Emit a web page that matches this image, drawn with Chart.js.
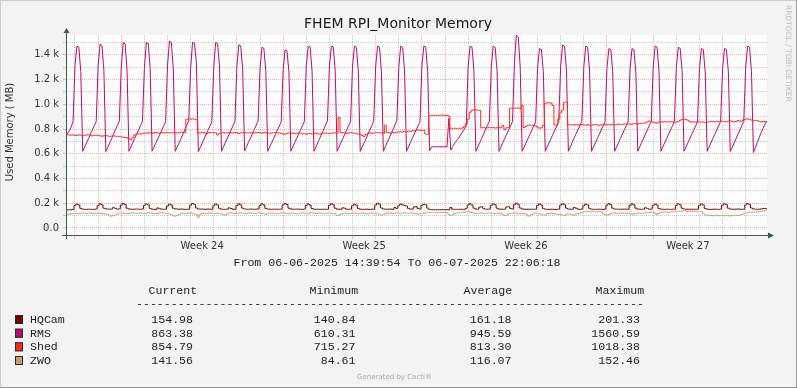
<!DOCTYPE html>
<html>
<head>
<meta charset="utf-8">
<title>FHEM RPI_Monitor Memory</title>
<script src="https://cdn.jsdelivr.net/npm/chart.js@4.4.1/dist/chart.umd.min.js"></script>
<style>
  html, body { margin: 0; padding: 0; background: #f3f3f3; }
  canvas { display: block; }
</style>
</head>
<body>
<canvas id="memChart" width="797" height="388"></canvas>
<script>
// samples every 2 h, hour 0 = 06-06-2025 00:00
const firstHour = 14;
const stepHours = 2;
const rangeStart = 14 + 39 / 60 + 54 / 3600;        // 06-06-2025 14:39:54
const rangeEnd = 30 * 24 + 22 + 6 / 60 + 18 / 3600;  // 06-07-2025 22:06:18

const weekLabels = ['Week 24', 'Week 25', 'Week 26', 'Week 27'];
const weekStarts = [72, 240, 408, 576]; // mondays 00:00

const seriesNames = ['HQCam', 'RMS', 'Shed', 'ZWO'];
const seriesColors = ['#7b0000', '#b80f68', '#ff2a1f', '#c8a070'];

const statCurrent = ['154.98', '863.38', '854.79', '141.56'];
const statMinimum = ['140.84', '610.31', '715.27', '84.61'];
const statAverage = ['161.18', '945.59', '813.30', '116.07'];
const statMaximum = ['201.33', '1560.59', '1018.38', '152.46'];

// one row per day (00h..22h), first row starts 14h
const hqcam = [
  142, 146, 147, 146, 150,
  182, 194, 186, 158, 152, 151, 150, 152, 151, 150, 151, 153,
  180, 196, 188, 160, 154, 153, 152, 153, 165, 158, 152, 154,
  185, 197, 190, 160, 153, 152, 151, 152, 153, 152, 151, 153,
  182, 195, 188, 158, 152, 151, 150, 162, 156, 152, 151, 152,
  178, 192, 185, 160, 154, 153, 152, 153, 152, 151, 150, 152,
  184, 198, 190, 162, 154, 152, 153, 152, 151, 153, 152, 151,
  180, 194, 186, 158, 152, 151, 150, 152, 163, 157, 152, 151,
  182, 196, 187, 160, 153, 152, 151, 153, 152, 151, 152, 153,
  180, 195, 186, 158, 153, 152, 151, 152, 151, 152, 151, 152,
  185, 197, 190, 160, 154, 152, 151, 152, 153, 151, 150, 152,
  182, 194, 185, 158, 152, 151, 152, 151, 150, 152, 151, 150,
  183, 195, 187, 160, 153, 152, 151, 163, 160, 152, 151, 152,
  180, 192, 184, 158, 152, 151, 150, 152, 151, 150, 152, 151,
  185, 201, 192, 162, 154, 152, 151, 153, 152, 151, 165, 158,
  180, 194, 186, 182, 178, 158, 153, 152, 170, 172, 158, 153,
  182, 192, 188, 160, 150, 148, 147, 148, 147, 148, 147, 148,
  147, 148, 147, 166, 152, 150, 151, 150, 152, 151, 150, 158,
  185, 196, 186, 160, 153, 152, 168, 172, 158, 152, 151, 153,
  182, 195, 188, 160, 153, 152, 151, 152, 170, 172, 158, 153,
  188, 200, 190, 162, 154, 152, 151, 152, 151, 152, 151, 152,
  182, 194, 186, 158, 152, 151, 150, 152, 151, 150, 151, 152,
  185, 196, 188, 160, 153, 152, 151, 166, 160, 152, 151, 153,
  180, 193, 186, 158, 152, 151, 150, 151, 152, 151, 150, 152,
  184, 196, 189, 160, 153, 152, 151, 152, 151, 153, 152, 151,
  182, 195, 187, 160, 153, 152, 151, 152, 164, 158, 152, 151,
  180, 193, 186, 158, 152, 151, 150, 152, 151, 150, 152, 151,
  183, 195, 188, 160, 153, 152, 151, 152, 151, 152, 151, 152,
  182, 194, 186, 158, 152, 151, 150, 151, 152, 151, 150, 152,
  184, 196, 188, 160, 153, 152, 151, 152, 153, 152, 151, 152,
  186, 197, 190, 162, 154, 152, 151, 152, 153, 156, 158, 155,
];

const rms = [
  745, 760, 785, 815, 860,
  1320, 1470, 1462, 1265, 620, 655, 688, 722, 758, 792, 826, 860,
  1310, 1485, 1475, 1270, 618, 652, 686, 722, 758, 794, 830, 865,
  1300, 1500, 1490, 1280, 620, 655, 690, 724, 758, 792, 828, 862,
  1290, 1500, 1492, 1290, 621, 655, 690, 722, 756, 790, 825, 858,
  1310, 1510, 1500, 1285, 620, 654, 688, 722, 758, 794, 830, 866,
  1290, 1500, 1495, 1330, 618, 652, 686, 720, 754, 790, 824, 858,
  1300, 1500, 1492, 1300, 620, 655, 690, 724, 758, 792, 828, 862,
  1310, 1480, 1472, 1280, 622, 657, 692, 726, 760, 795, 830, 864,
  1290, 1460, 1452, 1270, 620, 654, 688, 722, 756, 790, 824, 858,
  1280, 1440, 1432, 1260, 621, 655, 690, 724, 758, 792, 826, 860,
  1310, 1470, 1462, 1270, 620, 655, 690, 725, 760, 795, 830, 866,
  1300, 1470, 1465, 1275, 620, 655, 690, 724, 758, 794, 828, 862,
  1310, 1470, 1460, 1270, 619, 654, 688, 722, 758, 792, 828, 862,
  1305, 1470, 1462, 1265, 620, 656, 692, 726, 762, 796, 832, 866,
  1300, 1470, 1460, 1270, 620, 655, 690, 724, 758, 792, 826, 860,
  1310, 1470, 1462, 1265, 625, 655, 657, 656, 656, 657, 656, 656,
  657, 656, 887, 630, 660, 685, 705, 725, 750, 775, 800, 825,
  1310, 1470, 1462, 1265, 620, 655, 690, 724, 760, 795, 830, 862,
  1300, 1470, 1460, 1270, 620, 655, 690, 724, 758, 792, 826, 860,
  1330, 1560, 1545, 1300, 620, 654, 688, 722, 756, 790, 824, 858,
  1290, 1450, 1442, 1265, 620, 655, 690, 724, 758, 792, 826, 860,
  1310, 1480, 1470, 1275, 620, 656, 692, 728, 762, 796, 830, 864,
  1300, 1470, 1462, 1270, 620, 654, 688, 722, 756, 790, 824, 858,
  1290, 1450, 1442, 1265, 620, 655, 690, 724, 758, 792, 826, 860,
  1290, 1450, 1440, 1260, 620, 655, 690, 725, 760, 795, 830, 862,
  1300, 1470, 1462, 1270, 620, 655, 690, 724, 758, 792, 826, 860,
  1295, 1460, 1452, 1270, 620, 654, 688, 722, 756, 790, 824, 858,
  1290, 1450, 1442, 1260, 620, 655, 690, 724, 758, 792, 826, 860,
  1290, 1450, 1442, 1265, 618, 652, 686, 722, 758, 792, 828, 862,
  1300, 1470, 1462, 1265, 610, 648, 690, 732, 770, 805, 840, 863,
];

const shed = [
  760, 755, 752, 750, 752,
  750, 748, 752, 750, 746, 748, 752, 755, 750, 745, 748, 752,
  748, 745, 742, 745, 748, 744, 740, 742, 745, 742, 740, 738,
  736, 735, 732, 728, 722, 715, 730, 752, 760, 762, 758, 765,
  768, 765, 770, 768, 765, 770, 772, 768, 765, 770, 768, 770,
  772, 770, 768, 772, 770, 768, 770, 775, 772, 770, 878, 880,
  880, 882, 880, 876, 770, 768, 772, 770, 760, 768, 772, 770,
  770, 768, 752, 765, 770, 772, 768, 770, 772, 770, 768, 770,
  772, 762, 768, 770, 772, 770, 768, 772, 770, 768, 770, 772,
  770, 765, 772, 770, 768, 765, 768, 770, 772, 770, 768, 765,
  760, 758, 765, 768, 770, 765, 762, 765, 768, 765, 760, 762,
  758, 762, 765, 760, 765, 768, 762, 758, 762, 765, 768, 765,
  762, 765, 770, 768, 770, 895, 772, 770, 768, 765, 768, 770,
  768, 765, 762, 760, 755, 748, 740, 755, 765, 768, 765, 768,
  770, 772, 768, 770, 765, 830, 772, 770, 768, 770, 772, 775,
  775, 778, 775, 780, 778, 782, 780, 785, 788, 790, 792, 790,
  790, 788, 760, 758, 905, 910, 912, 910, 908, 910, 912, 910,
  910, 908, 905, 806, 805, 806, 804, 806, 805, 808, 820, 840,
  880, 935, 952, 955, 954, 952, 950, 810, 812, 808, 810, 812,
  810, 812, 808, 810, 812, 810, 828, 795, 810, 812, 968, 968,
  968, 968, 970, 968, 990, 812, 822, 830, 832, 830, 832, 825,
  815, 806, 810, 830, 1008, 1010, 1012, 1010, 990, 835, 830, 880,
  930, 954, 1016, 1018, 835, 834, 836, 832, 835, 834, 830, 836,
  834, 830, 836, 832, 830, 834, 836, 832, 830, 834, 832, 836,
  834, 836, 832, 838, 835, 834, 840, 838, 836, 840, 838, 842,
  840, 838, 842, 845, 840, 845, 848, 846, 850, 858, 865, 860,
  855, 852, 848, 855, 858, 856, 860, 858, 856, 860, 858, 855,
  856, 860, 870, 878, 880, 876, 872, 860, 856, 858, 855, 858,
  856, 858, 855, 852, 856, 858, 862, 860, 858, 862, 860, 864,
  862, 860, 858, 862, 866, 862, 858, 862, 868, 862, 866, 875,
  880, 882, 878, 872, 866, 870, 868, 862, 858, 862, 860, 855,
];

const zwo = [
  104, 108, 112, 115, 116,
  118, 120, 116, 118, 120, 119, 117, 120, 122, 118, 116, 118,
  120, 118, 116, 114, 112, 110, 98, 97, 100, 104, 112, 116,
  118, 120, 117, 115, 118, 120, 122, 119, 117, 120, 121, 118,
  116, 120, 124, 121, 118, 115, 117, 120, 122, 124, 120, 118,
  118, 114, 108, 98, 96, 100, 108, 115, 120, 118, 117, 120,
  122, 118, 114, 108, 86, 110, 118, 120, 118, 119, 121, 118,
  116, 118, 120, 117, 115, 106, 104, 114, 120, 122, 119, 117,
  118, 120, 122, 119, 116, 118, 121, 123, 120, 117, 119, 121,
  120, 118, 114, 110, 116, 120, 122, 119, 117, 115, 118, 120,
  122, 120, 118, 116, 119, 121, 118, 115, 117, 120, 122, 119,
  116, 118, 121, 123, 120, 117, 119, 121, 118, 116, 118, 120,
  121, 118, 116, 114, 100, 102, 112, 118, 120, 118, 116, 118,
  120, 122, 119, 117, 118, 121, 119, 116, 114, 118, 121, 120,
  118, 115, 110, 100, 108, 116, 120, 122, 119, 117, 120, 122,
  120, 118, 121, 123, 120, 117, 119, 121, 118, 116, 112, 114,
  118, 120, 122, 124, 125, 124, 125, 124, 123, 125, 124, 125,
  124, 123, 112, 100, 104, 118, 120, 122, 124, 126, 128, 130,
  132, 128, 124, 120, 118, 116, 119, 121, 118, 116, 119, 121,
  120, 118, 116, 118, 121, 119, 108, 100, 104, 114, 118, 120,
  122, 120, 118, 116, 118, 116, 112, 98, 97, 108, 116, 120,
  118, 116, 112, 106, 104, 114, 118, 120, 117, 115, 112, 110,
  108, 104, 100, 110, 114, 112, 106, 104, 112, 116, 118, 126,
  130, 132, 134, 131, 133, 135, 132, 130, 134, 131, 118, 108,
  104, 108, 116, 120, 122, 118, 116, 120, 122, 119, 117, 120,
  116, 110, 114, 118, 121, 119, 117, 120, 122, 124, 126, 128,
  126, 120, 110, 118, 126, 128, 130, 128, 127, 129, 131, 134,
  136, 134, 132, 136, 152, 138, 134, 135, 136, 134, 136, 135,
  133, 134, 118, 106, 104, 102, 100, 98, 101, 103, 100, 102,
  100, 98, 101, 99, 97, 100, 102, 99, 101, 104, 108, 116,
  120, 124, 128, 126, 128, 130, 128, 132, 134, 136, 138, 142,
];

const seriesValues = [hqcam, rms, shed, zwo];
seriesValues.forEach((s, i) => {
  if (s.length !== rms.length) console.error(seriesNames[i] + ' has ' + s.length + ' samples');
});

const sampleHours = rms.map((_, i) => firstHour + i * stepHours);
const toPoints = vals => vals.map((v, i) => ({ x: sampleHours[i], y: v }));

// x ticks: every midnight, plus the middle of each week for its label
const dayTicks = [];
for (let h = 24; h < rangeEnd; h += 24) dayTicks.push(h);
const weekMids = weekStarts.map(h => h + 84);
const xTicks = dayTicks.concat(weekMids).sort((a, b) => a - b);

const yTicks = [];
for (let v = 0; v <= 1500; v += 100) yTicks.push(v);

const minorGrid = 'rgba(160,160,160,0.55)';
const majorGrid = 'rgba(230,80,80,0.45)';
const axisColor = '#3c5b4c';
const labelFont = '"DejaVu Sans", Verdana, sans-serif';
const monoFont = '"Liberation Mono", "DejaVu Sans Mono", monospace';

const rrdFrame = {
  id: 'rrdFrame',
  beforeDraw(chart) {
    const { ctx, chartArea: a } = chart;
    ctx.save();
    ctx.fillStyle = '#f3f3f3';
    ctx.fillRect(0, 0, chart.width, chart.height);
    ctx.fillStyle = '#fdfdfd';
    ctx.fillRect(a.left, a.top, a.right - a.left, a.bottom - a.top);
    ctx.restore();
  },
  afterDraw(chart) {
    const { ctx, chartArea: a } = chart;
    ctx.save();

    // outer frame
    ctx.fillStyle = '#cbcbcb';
    ctx.fillRect(0, 0, chart.width, 1);
    ctx.fillRect(0, 0, 1, chart.height);
    ctx.fillStyle = '#9a9a9a';
    ctx.fillRect(0, chart.height - 1, chart.width, 1);
    ctx.fillRect(chart.width - 1, 0, 1, chart.height);

    // axes with arrows
    const ax = a.left + 0.5, ay = a.bottom - 0.5;
    ctx.strokeStyle = axisColor;
    ctx.fillStyle = axisColor;
    ctx.lineWidth = 1;
    ctx.beginPath();
    ctx.moveTo(ax, a.bottom + 3);
    ctx.lineTo(ax, a.top - 3);
    ctx.moveTo(a.left - 4, ay);
    ctx.lineTo(a.right + 2, ay);
    ctx.stroke();
    ctx.beginPath();
    ctx.moveTo(ax - 3, a.top - 2);
    ctx.lineTo(ax + 3, a.top - 2);
    ctx.lineTo(ax, a.top - 7);
    ctx.closePath();
    ctx.fill();
    ctx.beginPath();
    ctx.moveTo(a.right + 1, ay - 3);
    ctx.lineTo(a.right + 1, ay + 3);
    ctx.lineTo(a.right + 7, ay);
    ctx.closePath();
    ctx.fill();

    // title
    ctx.fillStyle = '#1a1a1a';
    ctx.font = '14px ' + labelFont;
    ctx.textAlign = 'center';
    ctx.textBaseline = 'alphabetic';
    ctx.fillText('FHEM RPI_Monitor Memory', 398, 28);

    // vertical axis title
    ctx.save();
    ctx.translate(10.5, 132);
    ctx.rotate(-Math.PI / 2);
    ctx.font = '10px ' + labelFont;
    ctx.fillStyle = '#333';
    ctx.textBaseline = 'middle';
    ctx.fillText('Used Memory ( MB)', 0, 0);
    ctx.restore();

    // watermark
    ctx.save();
    ctx.translate(788, 5);
    ctx.rotate(Math.PI / 2);
    ctx.font = '7.5px ' + labelFont;
    ctx.fillStyle = '#bdbdbd';
    ctx.textAlign = 'left';
    ctx.textBaseline = 'middle';
    ctx.fillText('RRDTOOL / TOBI OETIKER', 0, 0);
    ctx.restore();

    // time range
    ctx.font = '11.6px ' + monoFont;
    ctx.fillStyle = '#222';
    ctx.textAlign = 'left';
    ctx.fillText('From 06-06-2025 14:39:54 To 06-07-2025 22:06:18', 233.5, 266);

    // legend table
    ctx.fillText('Current', 148.5, 294);
    ctx.fillText('Minimum', 309.5, 294);
    ctx.fillText('Average', 463.5, 294);
    ctx.fillText('Maximum', 595.5, 294);
    ctx.fillText('-'.repeat(73), 136, 307);
    const rowBase = [323, 336.7, 350.3, 364];
    seriesNames.forEach((name, i) => {
      const y = rowBase[i];
      ctx.fillStyle = seriesColors[i];
      ctx.fillRect(15, y - 8, 8, 9);
      ctx.strokeStyle = '#2a2a2a';
      ctx.strokeRect(15.5, y - 7.5, 7, 8);
      ctx.fillStyle = '#222';
      ctx.textAlign = 'left';
      ctx.fillText(name, 30, y);
      ctx.textAlign = 'right';
      ctx.fillText(statCurrent[i], 193, y);
      ctx.fillText(statMinimum[i], 355.5, y);
      ctx.fillText(statAverage[i], 511.5, y);
      ctx.fillText(statMaximum[i], 640, y);
    });

    ctx.font = '7px ' + labelFont;
    ctx.fillStyle = '#aaaaaa';
    ctx.textAlign = 'center';
    ctx.fillText('Generated by Cacti\u00ae', 394.5, 379);
    ctx.restore();
  }
};

// the slow RMS sawtooth reads best as straight segments, the rest as rrd steps
const datasets = seriesNames.map((name, i) => ({
  label: name,
  data: toPoints(seriesValues[i]),
  borderColor: seriesColors[i],
  backgroundColor: seriesColors[i],
  borderWidth: 1,
  pointRadius: 0,
  tension: 0,
  stepped: name === 'RMS' ? false : 'middle',
  fill: false,
  order: 4 - i,
}));

new Chart(document.getElementById('memChart'), {
  type: 'line',
  data: { datasets },
  options: {
    responsive: false,
    animation: false,
    devicePixelRatio: 1,
    layout: { padding: { left: 0, right: 30, top: 35, bottom: 0 } },
    plugins: {
      legend: { display: false },
      title: { display: false },
      tooltip: { enabled: false },
    },
    scales: {
      x: {
        type: 'linear',
        min: rangeStart,
        max: rangeEnd,
        afterBuildTicks: scale => { scale.ticks = xTicks.map(v => ({ value: v })); },
        afterFit: scale => { scale.height = 152; },
        grid: {
          color: c => {
            const v = c.tick ? c.tick.value : 0;
            if (weekMids.includes(v)) return 'rgba(0,0,0,0)';
            return weekStarts.includes(v) ? majorGrid : minorGrid;
          },
          tickColor: c => {
            const v = c.tick ? c.tick.value : 0;
            if (weekMids.includes(v)) return 'rgba(0,0,0,0)';
            return weekStarts.includes(v) ? majorGrid : minorGrid;
          },
          tickLength: 3,
        },
        border: { display: false, dash: [1, 1] },
        ticks: {
          autoSkip: false,
          maxRotation: 0,
          padding: 1,
          color: '#333',
          font: { family: labelFont, size: 10 },
          callback: v => {
            const k = weekMids.indexOf(v);
            return k >= 0 ? weekLabels[k] : '';
          },
        },
      },
      y: {
        type: 'linear',
        min: -65,
        max: 1560,
        afterBuildTicks: scale => { scale.ticks = yTicks.map(v => ({ value: v })); },
        afterFit: scale => { scale.width = 66; },
        grid: {
          color: c => (c.tick && c.tick.value % 200 === 0 ? majorGrid : minorGrid),
          tickColor: c => (c.tick && c.tick.value % 200 === 0 ? majorGrid : minorGrid),
          tickLength: 3,
        },
        border: { display: false, dash: [1, 1] },
        ticks: {
          autoSkip: false,
          padding: 4,
          color: '#333',
          font: { family: labelFont, size: 10 },
          callback: v => {
            if (v % 200 !== 0) return '';
            return v === 0 ? '0.0' : (v / 1000).toFixed(1) + ' k';
          },
        },
      },
    },
  },
  plugins: [rrdFrame],
});
</script>
</body>
</html>
